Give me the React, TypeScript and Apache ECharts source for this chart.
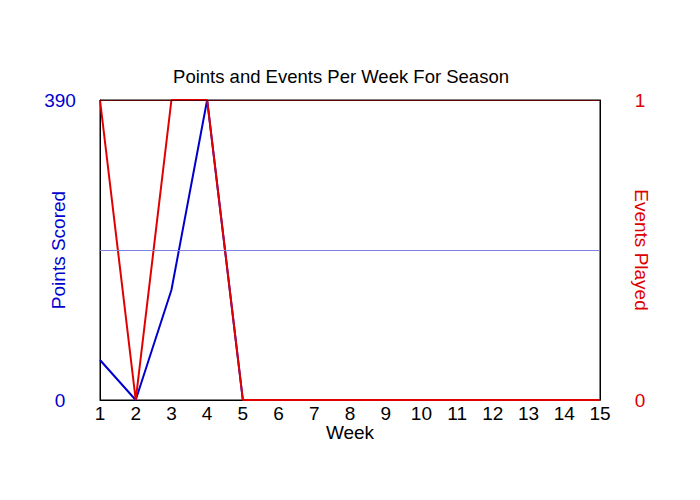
import React, { useEffect, useRef } from 'react';
import * as echarts from 'echarts';

// weeks of the season
const weeks = ['1', '2', '3', '4', '5', '6', '7', '8', '9', '10', '11', '12', '13', '14', '15'];
// points scored per week
const pointsScored = [52, 0, 143, 390, 0, 0, 0, 0, 0, 0, 0, 0, 0, 0, 0];
// events played per week
const eventsPlayed = [1, 0, 1, 1, 0, 0, 0, 0, 0, 0, 0, 0, 0, 0, 0];
const pointsMax = 390;
const eventsMax = 1;
const pointsMid = 195;

const FONT = '"Liberation Sans", Arial, sans-serif';

const App: React.FC = () => {
  const chartRef = useRef<HTMLDivElement>(null);

  useEffect(() => {
    document.body.style.margin = '0';
    if (!chartRef.current) return;
    const chart = echarts.init(chartRef.current, null, { renderer: 'svg' });

    const option: echarts.EChartsOption = {
      animation: false,
      backgroundColor: '#fff',
      title: {
        text: 'Points and Events Per Week For Season',
        left: 336,
        top: 62,
        textAlign: 'center',
        textStyle: { fontFamily: FONT, fontSize: 18.5, fontWeight: 'normal', color: '#000' }
      },
      grid: {
        left: 100,
        right: 100,
        top: 100,
        bottom: 100,
        show: true,
        borderColor: '#000',
        borderWidth: 1
      },
      xAxis: {
        type: 'category',
        data: weeks,
        boundaryGap: false,
        name: 'Week',
        nameLocation: 'middle',
        nameGap: 23,
        nameMoveOverlap: false,
        nameTextStyle: { fontFamily: FONT, fontSize: 19, color: '#000' },
        axisLine: { lineStyle: { color: '#000' } },
        axisTick: { show: false },
        axisLabel: { fontFamily: FONT, fontSize: 19, lineHeight: 19, color: '#000', margin: 4, interval: 0 }
      },
      yAxis: [
        {
          type: 'value',
          min: 0,
          max: pointsMax,
          interval: pointsMax,
          position: 'left',
          name: 'Points Scored',
          nameLocation: 'middle',
          nameGap: 32,
          nameMoveOverlap: false,
          nameTextStyle: { fontFamily: FONT, fontSize: 19, color: '#0000cc' },
          axisLine: { show: true, lineStyle: { color: '#000' } },
          axisTick: { show: false },
          splitLine: { show: false },
          axisLabel: { fontFamily: FONT, fontSize: 19, color: '#0000cc', margin: 40, align: 'center' }
        },
        {
          type: 'value',
          min: 0,
          max: eventsMax,
          interval: eventsMax,
          position: 'right',
          name: 'Events Played',
          nameLocation: 'middle',
          nameRotate: -90,
          nameGap: 32,
          nameMoveOverlap: false,
          nameTextStyle: { fontFamily: FONT, fontSize: 19, color: '#dd0000' },
          axisLine: { show: true, lineStyle: { color: '#000' } },
          axisTick: { show: false },
          splitLine: { show: false },
          axisLabel: { fontFamily: FONT, fontSize: 19, color: '#dd0000', margin: 40, align: 'center' }
        }
      ],
      series: [
        {
          name: 'Points Scored',
          type: 'line',
          yAxisIndex: 0,
          data: pointsScored,
          symbol: 'none',
          lineStyle: { color: '#0000cc', width: 2 },
          markLine: {
            silent: true,
            symbol: 'none',
            label: { show: false },
            lineStyle: { color: '#8080e0', width: 1, type: 'solid' },
            data: [{ yAxis: pointsMid }]
          }
        },
        {
          name: 'Events Played',
          type: 'line',
          yAxisIndex: 1,
          data: eventsPlayed,
          symbol: 'none',
          lineStyle: { color: '#e00000', width: 2 },
          markLine: {
            silent: true,
            symbol: 'none',
            label: { show: false },
            lineStyle: { color: '#600000', width: 1, type: 'solid' },
            data: [{ yAxis: eventsMax }]
          }
        }
      ]
    };

    chart.setOption(option);
    return () => {
      chart.dispose();
    };
  }, []);

  return <div ref={chartRef} style={{ width: 700, height: 500 }} />;
};

export default App;
